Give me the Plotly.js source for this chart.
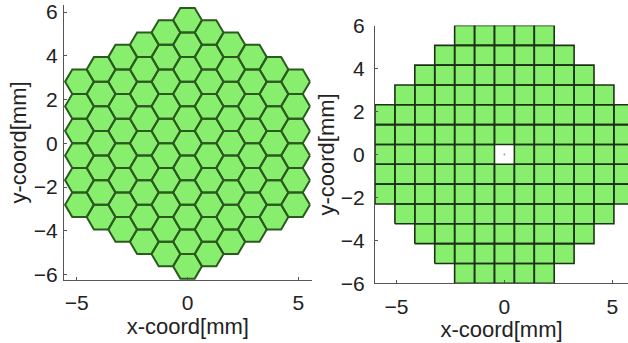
<!DOCTYPE html>
<html>
<head>
<meta charset="utf-8">
<script src="https://cdn.plot.ly/plotly-3.0.1.min.js"></script>
<style>html,body{margin:0;padding:0;background:#fff;}#chart{width:628px;height:343px;}</style>
</head>
<body>
<div id="chart"></div>
<script>
// ---- Left panel: hexagonal pixel layout ----
// column index (x position = index * column pitch) and number of hexagons in each column
const hexColumns = [-5, -4, -3, -2, -1, 0, 1, 2, 3, 4, 5];
const hexCounts  = [6, 7, 8, 9, 10, 11, 10, 9, 8, 7, 6];
const hexFlatToFlat = 1.125;   // mm

// ---- Right panel: square pixel layout ----
// row index (y position = index * pitch) and number of squares in each row (centred)
const sqRows   = [6, 5, 4, 3, 2, 1, 0, -1, -2, -3, -4, -5, -6];
const sqCounts = [5, 7, 9, 11, 13, 13, 13, 13, 13, 11, 9, 7, 5];
const sqMissing = [[0, 0]];    // [col,row] of the empty central cell
const sqPitch = 12 / 13;       // mm
const centerMarkerX = [0];
const centerMarkerY = [0];

// tick labels
const xTicks = [-5, 0, 5];
const yTicks = [-6, -4, -2, 0, 2, 4, 6];

// build hexagon outlines
const R = hexFlatToFlat / Math.sqrt(3);
const colPitch = 1.5 * R;
const hx = [], hy = [];
hexColumns.forEach((c, i) => {
  const n = hexCounts[i];
  const cx = c * colPitch;
  for (let k = 0; k < n; k++) {
    const cy = (k - (n - 1) / 2) * hexFlatToFlat;
    for (let a = 0; a <= 6; a++) {
      const t = a * Math.PI / 3;
      hx.push(cx + R * Math.cos(t));
      hy.push(cy + R * Math.sin(t));
    }
    hx.push(null); hy.push(null);
  }
});

// build square outlines
const sx = [], sy = [];
const h2 = sqPitch / 2;
sqRows.forEach((r, i) => {
  const n = sqCounts[i];
  for (let k = 0; k < n; k++) {
    const col = k - (n - 1) / 2;
    if (sqMissing.some(m => m[0] === col && m[1] === r)) continue;
    const cx = col * sqPitch, cy = r * sqPitch;
    sx.push(cx - h2, cx + h2, cx + h2, cx - h2, cx - h2, null);
    sy.push(cy - h2, cy - h2, cy + h2, cy + h2, cy - h2, null);
  }
});

const fillCol = '#88ee6e';
const traces = [
  {x: hx, y: hy, type: 'scatter', mode: 'lines', fill: 'toself', fillcolor: fillCol,
   line: {color: '#2b5a1e', width: 2}, xaxis: 'x', yaxis: 'y', hoverinfo: 'skip'},
  {x: sx, y: sy, type: 'scatter', mode: 'lines', fill: 'toself', fillcolor: fillCol,
   line: {color: '#1c3214', width: 1.6}, xaxis: 'x2', yaxis: 'y2', hoverinfo: 'skip'},
  {x: centerMarkerX, y: centerMarkerY, type: 'scatter', mode: 'markers',
   marker: {size: 2, color: '#8fa6b0'}, xaxis: 'x2', yaxis: 'y2', hoverinfo: 'skip'}
];

const fontFam = 'Liberation Sans, Arial, sans-serif';
const tickFont = {family: fontFam, size: 21, color: '#222'};
const titleFont = {family: fontFam, size: 22, color: '#222'};
function ax(extra) {
  return Object.assign({
    showgrid: false, zeroline: false, showline: true, linecolor: '#555', linewidth: 1,
    ticks: 'inside', ticklen: 3, tickcolor: '#555', tickwidth: 1,
    tickfont: tickFont, automargin: false, fixedrange: true, ticklabeloverflow: 'allow'
  }, extra);
}

const layout = {
  width: 628, height: 343,
  margin: {l: 0, r: 0, t: 0, b: 0},
  paper_bgcolor: '#fff', plot_bgcolor: 'rgba(0,0,0,0)',
  showlegend: false,
  xaxis: ax({domain: [64/628, 311.7/628], range: [-5.57, 5.6], tickvals: xTicks,
    ticklabelstandoff: 4, title: {text: 'x-coord[mm]', font: titleFont, standoff: 2}, anchor: 'y'}),
  yaxis: ax({domain: [(343-280)/343, (343-5)/343], range: [-6.25, 6.32], tickvals: yTicks,
    ticklabelstandoff: 1, title: {text: 'y-coord[mm]', font: titleFont, standoff: 1}, anchor: 'x'}),
  xaxis2: ax({domain: [375/628, 1], range: [-6, 5.73], tickvals: xTicks,
    ticklabelstandoff: 4, title: {text: 'x-coord[mm]', font: titleFont, standoff: 2}, anchor: 'y2'}),
  yaxis2: ax({domain: [(343-283.3)/343, (343-25.5)/343], range: [-6, 6], tickvals: yTicks,
    ticklabelstandoff: 5, title: {text: 'y-coord[mm]', font: titleFont, standoff: 0}, anchor: 'x2'})
};

Plotly.newPlot('chart', traces, layout, {staticPlot: true, displayModeBar: false});
</script>
</body>
</html>
